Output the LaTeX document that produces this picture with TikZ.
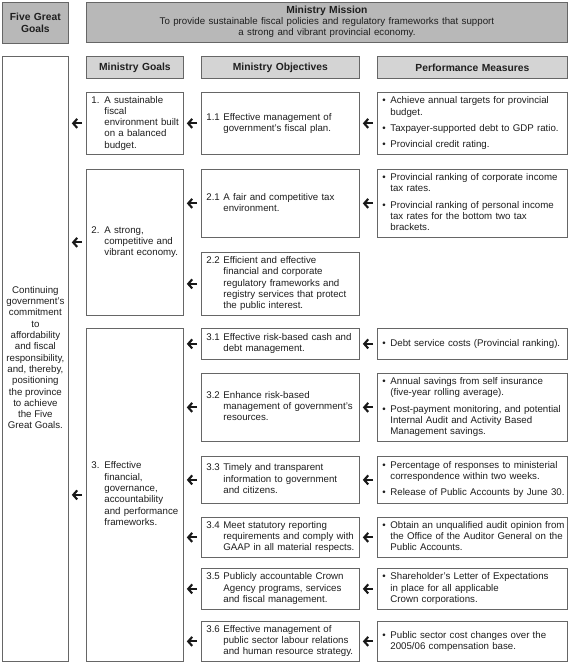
\documentclass[tikz,border=0pt]{standalone}
\usepackage{fontspec}
\setmainfont{Liberation Sans}
\usetikzlibrary{arrows.meta}
\definecolor{bordercol}{gray}{0.40}
\definecolor{topfill}{gray}{0.72}
\definecolor{headfill}{gray}{0.83}
\definecolor{txt}{gray}{0.12}
\newcommand\bodyf{\fontsize{9.7bp}{11.3bp}\selectfont}
\newcommand\headf{\fontsize{10.3bp}{12bp}\selectfont\bfseries}
\newcommand\tb[1]{\begin{tabular}{@{}l@{}l@{}}#1\end{tabular}}
\newcommand\ctb[1]{\begin{tabular}{@{}c@{}}#1\end{tabular}}
\newcommand\N[1]{\makebox[17bp][l]{#1}}
\newcommand\G[1]{\makebox[13bp][l]{#1}}
\newcommand\B{\makebox[8bp][l]{\textbullet}}
\newcommand\bx[7]{\node[#1, minimum width=#5bp, minimum height=#6bp, text width=#5bp-10bp] (#2) at (#3,#4) {#7};}
\tikzset{
  box/.style={draw=bordercol, line width=0.8bp, fill=white, anchor=north west,
    inner xsep=5bp, inner ysep=1bp, align=left, font=\bodyf, text=txt},
  topbox/.style={box, fill=topfill, align=center, font=\headf},
  headbox/.style={box, fill=headfill, align=center, font=\headf},
  cbox/.style={box, align=center},
  arr/.style={line width=2.1bp, draw=black!90, -{Straight Barb[length=4bp,width=9bp]}}
}
\begin{document}
\begin{tikzpicture}[x=1bp, y=-1bp]
\useasboundingbox (0,0) rectangle (570,662);
% top row
\bx{topbox}{fgg}{2}{2}{66}{41}{Five Great\\Goals}
\bx{topbox}{mis}{86}{2}{481}{40}{Ministry Mission\\{\bodyf\mdseries\ctb{To provide sustainable fiscal policies and regulatory frameworks that support\\a strong and vibrant provincial economy.}}}
% left column
\node[cbox, minimum width=66bp, minimum height=605bp, inner xsep=0bp] (lft) at (2,56) {\ctb{Continuing\\government's\\commitment\\to\\affordability\\and fiscal\\responsibility,\\and, thereby,\\positioning\\the province\\to achieve\\the Five\\Great Goals.}};
% column headers
\bx{headbox}{hg}{86}{56}{97}{22}{Ministry Goals}
\bx{headbox}{ho}{201}{56}{158}{22}{Ministry Objectives}
\bx{headbox}{hm}{377}{56}{190}{22}{Performance Measures}
% goals
\bx{box}{g1}{86}{92}{97}{62}{\tb{\G{1.}&A sustainable\\&fiscal\\&environment built\\&on a balanced\\&budget.}}
\bx{box}{g2}{86}{169}{97}{146}{\tb{\G{2.}&A strong,\\&competitive and\\&vibrant economy.}}
\bx{box}{g3}{86}{328}{97}{333}{\tb{\G{3.}&Effective\\&financial,\\&governance,\\&accountability\\&and performance\\&frameworks.}}
% objectives
\bx{box}{o11}{201}{92}{158}{62}{\tb{\N{1.1}&Effective management of\\&government's fiscal plan.}}
\bx{box}{o21}{201}{169}{158}{68}{\tb{\N{2.1}&A fair and competitive tax\\&environment.}}
\bx{box}{o22}{201}{252}{158}{63}{\tb{\N{2.2}&Efficient and effective\\&financial and corporate\\&regulatory frameworks and\\&registry services that protect\\&the public interest.}}
\bx{box}{o31}{201}{328}{158}{31}{\tb{\N{3.1}&Effective risk-based cash and\\&debt management.}}
\bx{box}{o32}{201}{373}{158}{68}{\tb{\N{3.2}&Enhance risk-based\\&management of government's\\&resources.}}
\bx{box}{o33}{201}{456}{158}{47}{\tb{\N{3.3}&Timely and transparent\\&information to government\\&and citizens.}}
\bx{box}{o34}{201}{517}{158}{40}{\tb{\N{3.4}&Meet statutory reporting\\&requirements and comply with\\&GAAP in all material respects.}}
\bx{box}{o35}{201}{568}{158}{41}{\tb{\N{3.5}&Publicly accountable Crown\\&Agency programs, services\\&and fiscal management.}}
\bx{box}{o36}{201}{621}{158}{40}{\tb{\N{3.6}&Effective management of\\&public sector labour relations\\&and human resource strategy.}}
% measures
\bx{box}{m11}{377}{92}{190}{62}{\tb{\B&Achieve annual targets for provincial\\&budget.\\[5bp]\B&Taxpayer-supported debt to GDP ratio.\\[5bp]\B&Provincial credit rating.}}
\bx{box}{m21}{377}{169}{190}{68}{\tb{\B&Provincial ranking of corporate income\\&tax rates.\\[5bp]\B&Provincial ranking of personal income\\&tax rates for the bottom two tax\\&brackets.}}
\bx{box}{m31}{377}{328}{190}{31}{\tb{\B&Debt service costs (Provincial ranking).}}
\bx{box}{m32}{377}{373}{190}{68}{\tb{\B&Annual savings from self insurance\\&(five-year rolling average).\\[5bp]\B&Post-payment monitoring, and potential\\&Internal Audit and Activity Based\\&Management savings.}}
\bx{box}{m33}{377}{456}{190}{47}{\tb{\B&Percentage of responses to ministerial\\&correspondence within two weeks.\\[5bp]\B&Release of Public Accounts by June 30.}}
\bx{box}{m34}{377}{517}{190}{40}{\tb{\B&Obtain an unqualified audit opinion from\\&the Office of the Auditor General on the\\&Public Accounts.}}
\bx{box}{m35}{377}{568}{190}{41}{\tb{\B&Shareholder's Letter of Expectations\\&in place for all applicable\\&Crown corporations.}}
\bx{box}{m36}{377}{621}{190}{40}{\tb{\B&Public sector cost changes over the\\&2005/06 compensation base.}}
% arrows goals -> left
\foreach \g in {g1,g2,g3}
  \draw[arr] ([xshift=-4bp]\g.west) -- ([xshift=3bp]\g.west -| lft.east);
% arrows objectives -> goals
\foreach \o/\g in {o11/g1,o21/g2,o22/g2,o31/g3,o32/g3,o33/g3,o34/g3,o35/g3,o36/g3}
  \draw[arr] ([xshift=-4bp]\o.west) -- ([xshift=3bp]\o.west -| \g.east);
% arrows measures -> objectives
\foreach \m/\o in {m11/o11,m21/o21,m31/o31,m32/o32,m33/o33,m34/o34,m35/o35,m36/o36}
  \draw[arr] ([xshift=-4bp]\m.west) -- ([xshift=3bp]\m.west -| \o.east);
\end{tikzpicture}
\end{document}
